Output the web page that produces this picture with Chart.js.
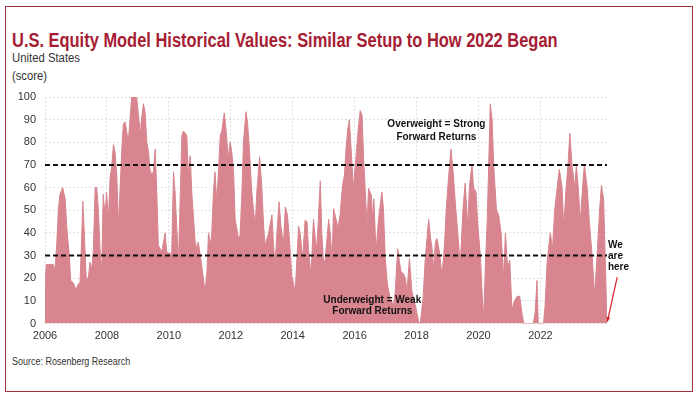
<!DOCTYPE html>
<html>
<head>
<meta charset="utf-8">
<script src="https://cdn.jsdelivr.net/npm/chart.js@4.4.0/dist/chart.umd.min.js"></script>
<style>
    body { margin: 0; background: #fff; width: 700px; height: 399px; overflow: hidden; position: relative; }
    .frame { position: absolute; left: 5px; top: 6px; width: 688px; height: 386px; border: 1px solid #a3323f; box-sizing: border-box; }
    .txt { position: absolute; left: 12px; white-space: nowrap; font-family: "Liberation Sans Narrow", "Liberation Sans", Arial, sans-serif; color: #333; transform-origin: left center; }
    #title { top: 29px; font-size: 20px; font-weight: bold; color: #a61c33; }
    #sub1 { top: 51px; font-size: 12.5px; }
    #sub2 { top: 69px; font-size: 12.5px; }
    #source { top: 355px; font-size: 10.5px; }
    #chartBox { position: absolute; left: 0; top: 0; width: 700px; height: 399px; }
</style>
</head>
<body>
<div class="frame"></div>
<div class="txt" id="title">U.S. Equity Model Historical Values: Similar Setup to How 2022 Began</div>
<div class="txt" id="sub1">United States</div>
<div class="txt" id="sub2">(score)</div>
<div class="txt" id="source">Source: Rosenberg Research</div>
<div id="chartBox"><canvas id="modelChart"></canvas></div>
<script>
// decimal years and model score
const dates = [
    2006.00, 2006.04, 2006.27, 2006.32, 2006.38, 2006.43, 2006.48, 2006.57, 2006.65, 2006.70,
    2006.79, 2006.83, 2006.91, 2007.00, 2007.08, 2007.13, 2007.19, 2007.22, 2007.27, 2007.33,
    2007.40, 2007.45, 2007.51, 2007.56, 2007.62, 2007.67, 2007.72, 2007.78, 2007.83, 2007.88,
    2007.94, 2007.99, 2008.05, 2008.10, 2008.16, 2008.21, 2008.26, 2008.32, 2008.37, 2008.42,
    2008.48, 2008.53, 2008.59, 2008.69, 2008.80, 2008.96, 2009.07, 2009.10, 2009.18, 2009.23,
    2009.29, 2009.34, 2009.39, 2009.45, 2009.50, 2009.56, 2009.61, 2009.66, 2009.72, 2009.77,
    2009.88, 2009.93, 2010.04, 2010.09, 2010.15, 2010.20, 2010.31, 2010.42, 2010.47, 2010.58,
    2010.63, 2010.69, 2010.74, 2010.85, 2010.90, 2010.95, 2011.06, 2011.17, 2011.23, 2011.28,
    2011.37, 2011.44, 2011.49, 2011.55, 2011.66, 2011.71, 2011.79, 2011.85, 2011.92, 2011.98,
    2012.03, 2012.09, 2012.14, 2012.25, 2012.30, 2012.36, 2012.41, 2012.49, 2012.54, 2012.60,
    2012.68, 2012.73, 2012.79, 2012.84, 2012.93, 2013.00, 2013.06, 2013.11, 2013.22, 2013.33,
    2013.38, 2013.43, 2013.49, 2013.56, 2013.62, 2013.70, 2013.76, 2013.83, 2013.90, 2013.97,
    2014.08, 2014.19, 2014.24, 2014.32, 2014.40, 2014.46, 2014.51, 2014.59, 2014.67, 2014.73,
    2014.78, 2014.89, 2014.94, 2015.00, 2015.05, 2015.16, 2015.21, 2015.27, 2015.32, 2015.40,
    2015.46, 2015.53, 2015.61, 2015.67, 2015.72, 2015.78, 2015.83, 2015.89, 2015.96, 2016.04,
    2016.11, 2016.18, 2016.24, 2016.29, 2016.34, 2016.40, 2016.45, 2016.54, 2016.58, 2016.62,
    2016.69, 2016.77, 2016.88, 2016.93, 2016.99, 2017.06, 2017.15, 2017.26, 2017.31, 2017.39,
    2017.45, 2017.50, 2017.58, 2017.64, 2017.69, 2017.77, 2017.85, 2017.96, 2018.07, 2018.12,
    2018.21, 2018.28, 2018.39, 2018.44, 2018.50, 2018.55, 2018.61, 2018.66, 2018.74, 2018.82,
    2018.90, 2018.96, 2019.03, 2019.11, 2019.18, 2019.25, 2019.33, 2019.41, 2019.50, 2019.57,
    2019.65, 2019.71, 2019.79, 2019.84, 2019.92, 2019.97, 2020.06, 2020.13, 2020.17, 2020.22,
    2020.28, 2020.33, 2020.38, 2020.44, 2020.49, 2020.58, 2020.65, 2020.73, 2020.81, 2020.87,
    2020.94, 2021.01, 2021.08, 2021.16, 2021.25, 2021.33, 2021.41, 2021.46, 2021.77, 2021.83,
    2021.89, 2021.93, 2022.10, 2022.15, 2022.22, 2022.32, 2022.39, 2022.46, 2022.54, 2022.61,
    2022.70, 2022.75, 2022.83, 2022.89, 2022.95, 2023.02, 2023.11, 2023.16, 2023.22, 2023.29,
    2023.37, 2023.42, 2023.51, 2023.58, 2023.67, 2023.75, 2023.83, 2023.91, 2023.97, 2024.04,
    2024.10, 2024.15
];
const scores = [
    16, 26, 26, 23.5, 35, 50, 57, 60, 55, 43,
    29, 19, 18, 15, 17.5, 18, 40, 54, 40, 20,
    20, 27, 24, 32, 60, 60, 51, 32, 22, 57,
    48, 58, 46, 64, 70, 79, 76, 65, 43, 58,
    77, 88, 89, 80, 100, 100, 85, 88, 97, 93.5,
    80, 76, 68, 65.5, 67, 77, 58, 34.5, 33, 31.5,
    40, 31.5, 31, 30, 67, 58, 27, 83, 85, 83,
    65.5, 74, 58, 36, 33, 36, 25.7, 14, 23, 40,
    34.5, 58, 67, 53.7, 83, 85, 93, 85, 73, 80,
    76, 67, 46, 37.5, 39, 58, 80, 93.5, 89, 77,
    58, 50.7, 43, 58, 73.6, 61, 43, 34.5, 40, 48,
    34.5, 25.7, 40, 53.7, 43, 34.5, 51.5, 48, 36, 21,
    14, 43, 40, 28.6, 45.6, 45, 33, 21, 46, 37.5,
    33, 63, 40, 25.7, 28.6, 46, 40, 28.6, 50.7, 46,
    42, 48, 61, 65.5, 77, 86, 90, 76, 59.6, 73,
    85, 94, 92, 73, 59.6, 43, 59.6, 56.6, 46, 55,
    31.5, 46, 58, 50.7, 28.6, 17, 11, 8, 14, 33,
    27, 22.7, 22, 19.8, 14, 28.6, 14, 8, 0.6, 0,
    11, 28.6, 46, 39, 33, 24, 36, 37.5, 31.5, 21,
    34.5, 50.7, 64, 77, 67, 53.7, 40, 25.7, 50.7, 62,
    43, 61, 70, 60, 58, 45, 30, 10, 3, 25,
    45, 70, 97, 90, 70, 50, 48, 40, 20, 40,
    25, 28, 6, 10, 12, 12, 4, 0, 0, 5,
    19, 0, 0, 8, 28, 40, 33, 50, 60, 68,
    60, 42, 60, 70, 84, 70, 60, 70, 60, 45,
    62, 70, 60, 45, 30, 12, 30, 50, 61, 55,
    25, 0
];
const thresholds = [70, 30];
const yearTicks = [2006, 2008, 2010, 2012, 2014, 2016, 2018, 2020, 2022];
const X_MIN = 2006, X_MAX = 2024.15;

const FONT = '"Liberation Sans Narrow", "Liberation Sans", Arial, sans-serif';

// squeeze header texts to the widths they have in the original
function fitWidth(id, w) {
    const el = document.getElementById(id);
    el.style.transform = 'scaleX(' + (w / el.offsetWidth) + ')';
}
fitWidth('title', 546);
fitWidth('sub1', 68);
fitWidth('sub2', 35);
fitWidth('source', 118);

// text notes, placed in data units
const notes = [
    { text: 'Overweight = Strong', x: 2018.64, y: 87.8, align: 'center' },
    { text: 'Forward Returns', x: 2018.64, y: 82.4, align: 'center' },
    { text: 'Underweight = Weak', x: 2016.57, y: 10.3, align: 'center' },
    { text: 'Forward Returns', x: 2016.57, y: 5.6, align: 'center' },
    { text: 'We', x: 2024.18, y: 34.5, align: 'left' },
    { text: 'are', x: 2024.18, y: 29.6, align: 'left' },
    { text: 'here', x: 2024.18, y: 24.7, align: 'left' }
];

const notesPlugin = {
    id: 'notes',
    afterDatasetsDraw(chart) {
        const { ctx, scales: { x, y } } = chart;
        ctx.save();
        ctx.font = 'bold 10px ' + FONT;
        ctx.fillStyle = '#111';
        ctx.textBaseline = 'middle';
        notes.forEach(n => {
            ctx.textAlign = n.align;
            ctx.fillText(n.text, x.getPixelForValue(n.x), y.getPixelForValue(n.y));
        });

        // red arrow pointing at the last reading
        const x1 = x.getPixelForValue(2024.48), y1 = y.getPixelForValue(20.5);
        const x2 = x.getPixelForValue(2024.16), y2 = y.getPixelForValue(0.8);
        ctx.strokeStyle = '#d4202a';
        ctx.fillStyle = '#d4202a';
        ctx.lineWidth = 1.2;
        ctx.beginPath();
        ctx.moveTo(x1, y1);
        ctx.lineTo(x2, y2);
        ctx.stroke();
        const ang = Math.atan2(y2 - y1, x2 - x1);
        ctx.beginPath();
        ctx.moveTo(x2, y2);
        ctx.lineTo(x2 - 5 * Math.cos(ang - 0.4), y2 - 5 * Math.sin(ang - 0.4));
        ctx.lineTo(x2 - 5 * Math.cos(ang + 0.4), y2 - 5 * Math.sin(ang + 0.4));
        ctx.closePath();
        ctx.fill();
        ctx.restore();
    }
};

const ctx = document.getElementById('modelChart').getContext('2d');
const modelChart = new Chart(ctx, {
    type: 'line',
    data: {
        datasets: [
            ...thresholds.map(t => ({
                data: [{ x: X_MIN, y: t }, { x: X_MAX, y: t }],
                borderColor: '#111',
                borderWidth: 2,
                borderDash: [5, 3],
                pointRadius: 0,
                fill: false,
                order: 0
            })),
            {
                label: 'U.S. Equity Model',
                data: dates.map((d, i) => ({ x: d, y: scores[i] })),
                borderColor: '#d8858f',
                backgroundColor: '#d8858f',
                borderWidth: 1,
                pointRadius: 0,
                tension: 0,
                fill: 'origin',
                order: 1
            }
        ]
    },
    options: {
        responsive: true,
        maintainAspectRatio: false,
        animation: false,
        layout: { padding: { top: 97, right: 93, bottom: 55.5, left: 0 } },
        plugins: { legend: { display: false }, tooltip: { enabled: false } },
        scales: {
            x: {
                type: 'linear',
                min: X_MIN,
                max: X_MAX,
                afterBuildTicks: axis => { axis.ticks = yearTicks.map(v => ({ value: v })); },
                afterFit: axis => { axis.height = 20; },
                ticks: {
                    autoSkip: false,
                    maxRotation: 0,
                    padding: 6,
                    color: '#333',
                    font: { family: FONT, size: 11 },
                    callback: v => String(v)
                },
                grid: { color: '#e0e0e0', drawTicks: false },
                border: { display: false, dash: [2, 2] }
            },
            y: {
                min: 0,
                max: 100,
                afterFit: axis => { axis.width = 45; },
                ticks: {
                    stepSize: 10,
                    padding: 9,
                    color: '#333',
                    font: { family: FONT, size: 11 }
                },
                grid: { color: '#e0e0e0', drawTicks: false },
                border: { display: false, dash: [2, 2] }
            }
        }
    },
    plugins: [notesPlugin]
});
</script>
</body>
</html>
